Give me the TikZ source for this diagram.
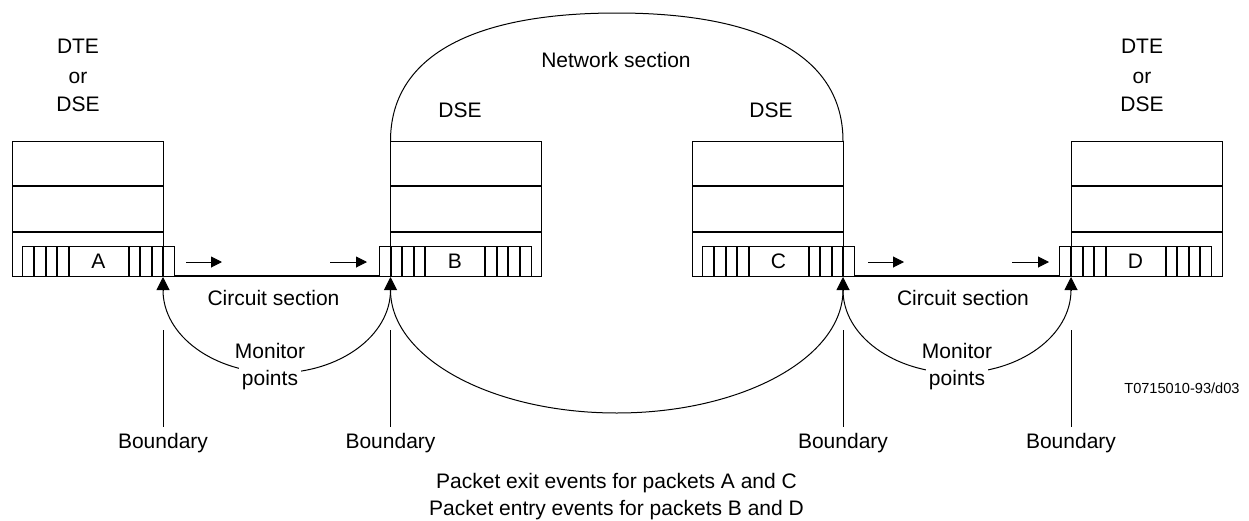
\documentclass[tikz,border=0pt]{standalone}
\usepackage{fontspec}
\setmainfont{Liberation Sans}
\usetikzlibrary{arrows.meta}
\newcommand\mystack[4]{%
  \draw[thinline] (#1,141) rectangle ++(151,135);
  \draw[thickline] (#1,186) -- ++(151,0);
  \draw[thickline] (#1,232) -- ++(151,0);
  \draw[thinline] (#2,246) rectangle ++(152,30);
  \foreach \d in {11.5,23,34.5,46,106,117.5,129,140.5}
    \draw[thickline] (#2+\d,246) -- (#2+\d,276);
  \node[pkt] (#4) at (#2+76,261) {#3};
  \coordinate (#4L) at (#2,276);
  \coordinate (#4R) at (#2+152,276);
}
\begin{document}
\begin{tikzpicture}[x=0.5pt,y=-0.5pt,
  thinline/.style={line width=0.5pt},
  thickline/.style={line width=1pt},
  lbl/.style={font=\fontsize{10.5}{12.6}\selectfont, inner sep=0pt, anchor=base},
  pkt/.style={font=\fontsize{10.5}{12.6}\selectfont, inner sep=0pt, anchor=center},
  mlbl/.style={lbl, fill=white, inner sep=1.5pt},
  small/.style={font=\fontsize{7.3}{8.8}\selectfont, inner sep=0pt, anchor=base east},
  tip/.style={-{Triangle[length=6.5pt,width=6.5pt]}, line width=0.5pt},
  flow/.style={-{Triangle[length=5.5pt,width=5.5pt]}, line width=0.5pt},
]
\useasboundingbox (0,0) rectangle (1249,520);

% stacks
\mystack{12}{22.5}{A}{pA}
\mystack{390.5}{379}{B}{pB}
\mystack{692}{702.5}{C}{pC}
\mystack{1071}{1059.5}{D}{pD}

% circuit lines
\draw[thickline] (pAR) -- (pBL);
\draw[thickline] (pCR) -- (pDL);

% flow arrows
\coordinate (f1s) at (186,262); \coordinate (f1e) at (222,262);
\coordinate (f2s) at (330,262); \coordinate (f2e) at (367,262);
\coordinate (f3s) at (868,262); \coordinate (f3e) at (904,262);
\coordinate (f4s) at (1012,262); \coordinate (f4e) at (1049,262);
\draw[flow] (f1s) -- (f1e);
\draw[flow] (f2s) -- (f2e);
\draw[flow] (f3s) -- (f3e);
\draw[flow] (f4s) -- (f4e);

% monitor points
\coordinate (m1b) at (163,290);   \coordinate (m1t) at (163,277);
\coordinate (m2b) at (390.5,290); \coordinate (m2t) at (390.5,277);
\coordinate (m3b) at (843,290);   \coordinate (m3t) at (843,277);
\coordinate (m4b) at (1071,290);  \coordinate (m4t) at (1071,277);
\draw[tip] (m1b) -- (m1t);
\draw[tip] (m2b) -- (m2t);
\draw[tip] (m3b) -- (m3t);
\draw[tip] (m4b) -- (m4t);

% arcs
\draw[thinline] (m1b) .. controls (163,335.8) and (213.9,373) .. (276.75,373)
  .. controls (339.6,373) and (390.5,335.8) .. (m2b);
\draw[thinline] (m2b) .. controls (390.5,357.9) and (491.75,413) .. (616.75,413)
  .. controls (741.75,413) and (843,357.9) .. (m3b);
\draw[thinline] (m3b) .. controls (843,335.8) and (894,373) .. (957,373)
  .. controls (1020,373) and (1071,335.8) .. (m4b);

% network section arc
\coordinate (nL) at (390.5,141); \coordinate (nR) at (843,141);
\draw[thinline] (nL) .. controls (390.5,57.8) and (469.7,13) .. (616.75,13)
  .. controls (763.8,13) and (843,57.8) .. (nR);

% boundaries
\foreach \x/\n in {163/b1,390.5/b2,843/b3,1071/b4}{
  \coordinate (\n t) at (\x,330);
  \coordinate (\n b) at (\x,427);
  \draw[thinline] (\n t) -- (\n b);
  \node[lbl] (\n lab) at (\x,448) {Boundary};
}

% texts
\node[lbl] (dte1) at (78,53) {DTE};
\node[lbl] (or1) at (78,83) {or};
\node[lbl] (dse1) at (78,111) {DSE};
\node[lbl] (dte2) at (1142,53) {DTE};
\node[lbl] (or2) at (1142,83) {or};
\node[lbl] (dse2) at (1142,111) {DSE};
\node[lbl] (dseB) at (460,117) {DSE};
\node[lbl] (dseC) at (771,117) {DSE};
\node[lbl] (net) at (616,67) {Network section};
\node[lbl] (cs1) at (273.5,305) {Circuit section};
\node[lbl] (cs2) at (963,305) {Circuit section};
\node[mlbl] (mon1) at (270,358) {Monitor};
\node[mlbl] (pts1) at (270,385) {points};
\node[mlbl] (mon2) at (957,358) {Monitor};
\node[mlbl] (pts2) at (957,385) {points};
\node[lbl] (ev1) at (616.5,488) {Packet exit events for packets A and C};
\node[lbl] (ev2) at (616.5,515) {Packet entry events for packets B and D};
\node[small] (ref) at (1240,393) {T0715010-93/d03};
\end{tikzpicture}
\end{document}
